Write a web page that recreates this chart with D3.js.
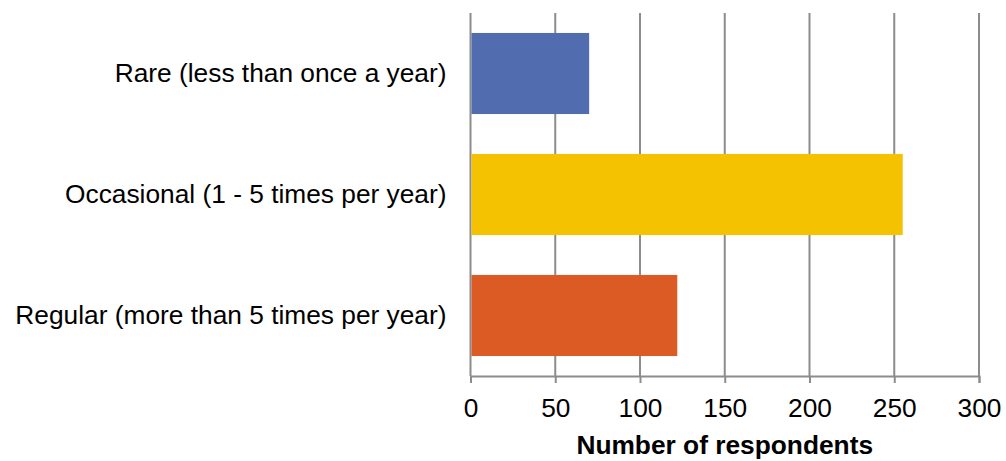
<!DOCTYPE html>
<html>
<head>
<meta charset="utf-8">
<script src="https://cdn.jsdelivr.net/npm/d3@7"></script>
<style>
  html, body { margin: 0; padding: 0; background: #fff; }
  svg text { font-family: "Liberation Sans", Arial, sans-serif; fill: #000; }
</style>
</head>
<body>
<svg id="chart" width="1006" height="461"></svg>
<script>
// Survey answers: how often respondents do it
const categories = [
  "Rare (less than once a year)",
  "Occasional (1 - 5 times per year)",
  "Regular (more than 5 times per year)"
];
const respondents = [70, 255, 122];
const barColors = ["#516db0", "#f4c200", "#dc5a24"];
const tickValues = [0, 50, 100, 150, 200, 250, 300];
const axisTitle = "Number of respondents";

const svg = d3.select("#chart");
const margin = { top: 13, left: 470.5, right: 27, bottom: 85 };
const width = 1006, height = 461;
const plotBottom = height - margin.bottom;
const fontSize = 26.3;

const x = d3.scaleLinear().domain([0, 300]).range([margin.left, width - margin.right]);
const y = d3.scaleBand().domain(categories).range([margin.top, plotBottom])
  .paddingInner(0.33).paddingOuter(0.165);

// vertical gridlines
svg.append("g")
  .selectAll("line")
  .data(tickValues)
  .join("line")
  .attr("x1", d => x(d)).attr("x2", d => x(d))
  .attr("y1", margin.top).attr("y2", plotBottom)
  .attr("stroke", "#8c8c8c").attr("stroke-width", 2);

// bars
svg.append("g")
  .selectAll("rect")
  .data(categories)
  .join("rect")
  .attr("x", x(0) + 1)
  .attr("y", d => y(d))
  .attr("width", (d, i) => x(respondents[i]) - x(0) - 1)
  .attr("height", y.bandwidth())
  .attr("fill", (d, i) => barColors[i]);

// x axis
const xAxis = svg.append("g")
  .attr("transform", `translate(0,${plotBottom})`)
  .call(d3.axisBottom(x).tickValues(tickValues).tickSize(7).tickPadding(15));
xAxis.select(".domain").attr("stroke", "#8c8c8c").attr("stroke-width", 2);
xAxis.selectAll(".tick line").attr("stroke", "#8c8c8c").attr("stroke-width", 2);
xAxis.selectAll(".tick text").attr("font-size", fontSize).attr("fill", "#000")
  .attr("font-family", "Liberation Sans, Arial, sans-serif");

// category labels
svg.append("g")
  .selectAll("text")
  .data(categories)
  .join("text")
  .attr("x", margin.left - 24)
  .attr("y", d => y(d) + y.bandwidth() / 2)
  .attr("dy", "0.34em")
  .attr("text-anchor", "end")
  .attr("font-size", fontSize)
  .text(d => d);

// axis title
svg.append("text")
  .attr("x", (x(0) + x(300)) / 2)
  .attr("y", 454)
  .attr("text-anchor", "middle")
  .attr("font-size", fontSize)
  .attr("font-weight", "bold")
  .text(axisTitle);
</script>
</body>
</html>
